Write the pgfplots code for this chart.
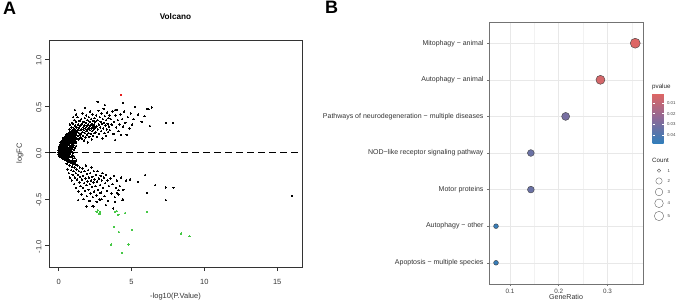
\documentclass[border=0pt]{standalone}
\usepackage{fontspec}
\setmainfont{Liberation Sans}
\usepackage{pgfplots}
\pgfplotsset{compat=1.18}
\definecolor{vgreen}{RGB}{70,200,70}
\definecolor{vred}{RGB}{230,30,30}
\begin{document}
\begin{tikzpicture}[x=1pt,y=1pt]
\useasboundingbox (0pt,0pt) rectangle (678pt,303pt);
\node[anchor=north west,inner sep=0,font=\bfseries\fontsize{18}{18}\selectfont] at (3pt,301pt) {A};
\node[anchor=north west,inner sep=0,font=\bfseries\fontsize{18}{18}\selectfont] at (325pt,302pt) {B};
% ---------------- Panel A: volcano ----------------
\begin{axis}[at={(49pt,36pt)}, anchor=south west, scale only axis, width=253pt, height=227pt,
  xmin=-0.66, xmax=16.7, ymin=-1.23, ymax=1.21,
  axis line style={black!80, line width=0.6pt},
  xtick={0,5,10,15}, xticklabels={0,5,10,15},
  ytick={-1,-0.5,0,0.5,1}, yticklabels={-1.0,-0.5,0.0,0.5,1.0},
  tick align=outside, tick pos=left, major tick length=4pt,
  tick style={black!80, line width=0.5pt},
  tick label style={font=\fontsize{7.5}{8}\selectfont, text=black!80},
  x tick label style={yshift=-5pt},
  y tick label style={rotate=90, anchor=south, xshift=-1pt},
  xlabel={-log10(P.Value)}, ylabel={logFC},
  xlabel style={at={(axis description cs:0.5,0)}, anchor=center, yshift=-30pt, font=\fontsize{7.5}{8}\selectfont, text=black!80},
  ylabel style={at={(axis description cs:0,0.5)}, anchor=center, yshift=29pt, font=\fontsize{7.5}{8}\selectfont, text=black!80},
  title={Volcano},
  title style={at={(axis description cs:0.5,1)}, anchor=center, yshift=17pt, font=\bfseries\fontsize{8.2}{9}\selectfont},
]
\addplot[only marks, mark=*, mark size=0.7pt, black, mark options={line width=0pt}] coordinates {
(0,-0.02)(0,0)(0,0.02)
(0.03,-0.03)(0.03,-0.01)(0.03,0.01)(0.03,0.03)(0.03,0.05)
(0.06,-0.03)(0.06,-0.01)(0.06,0.01)(0.06,0.03)(0.06,0.05)(0.06,0.07)
(0.1,-0.04)(0.1,-0.02)(0.1,0)(0.1,0.02)(0.1,0.04)(0.1,0.06)(0.1,0.08)
(0.14,-0.05)(0.14,-0.03)(0.14,-0.01)(0.14,0.01)(0.14,0.03)(0.14,0.05)(0.14,0.07)(0.14,0.09)(0.14,0.11)
(0.18,-0.05)(0.18,-0.03)(0.18,-0.01)(0.18,0.01)(0.18,0.03)(0.18,0.05)(0.18,0.07)(0.18,0.09)(0.18,0.11)
(0.22,-0.06)(0.22,-0.04)(0.22,-0.02)(0.22,0)(0.22,0.02)(0.22,0.04)(0.22,0.06)(0.22,0.08)(0.22,0.1)(0.22,0.12)
(0.26,-0.06)(0.26,-0.04)(0.26,-0.02)(0.26,0.01)(0.26,0.03)(0.26,0.05)(0.26,0.07)(0.26,0.09)(0.26,0.11)(0.26,0.13)
(0.3,-0.065)(0.3,-0.045)(0.3,-0.025)(0.3,-0.005)(0.3,0.015)(0.3,0.035)(0.3,0.055)(0.3,0.075)(0.3,0.095)(0.3,0.115)(0.3,0.135)(0.3,0.15)
(0.35,-0.07)(0.35,-0.05)(0.35,-0.03)(0.35,-0.01)(0.35,0.01)(0.35,0.03)(0.35,0.05)(0.35,0.07)(0.35,0.09)(0.35,0.11)(0.35,0.13)(0.35,0.155)
(0.4,-0.075)(0.4,-0.05)(0.4,-0.025)(0.4,0)(0.4,0.02)(0.4,0.04)(0.4,0.06)(0.4,0.08)(0.4,0.1)(0.4,0.12)(0.4,0.14)(0.4,0.165)
(0.45,-0.07)(0.45,-0.045)(0.45,-0.02)(0.45,0.005)(0.45,0.03)(0.45,0.05)(0.45,0.07)(0.45,0.09)(0.45,0.11)(0.45,0.13)(0.45,0.15)(0.45,0.175)
(0.5,-0.08)(0.5,-0.05)(0.5,-0.02)(0.5,0.01)(0.5,0.04)(0.5,0.065)(0.5,0.09)(0.5,0.115)(0.5,0.14)(0.5,0.165)(0.5,0.185)
(0.56,-0.085)(0.56,-0.055)(0.56,-0.025)(0.56,0.005)(0.56,0.035)(0.56,0.06)(0.56,0.085)(0.56,0.11)(0.56,0.135)(0.56,0.16)(0.56,0.19)
(0.62,-0.075)(0.62,-0.04)(0.62,-0.01)(0.62,0.02)(0.62,0.05)(0.62,0.08)(0.62,0.105)(0.62,0.13)(0.62,0.155)(0.62,0.18)(0.62,0.2)
(0.68,-0.09)(0.68,-0.055)(0.68,-0.02)(0.68,0.015)(0.68,0.05)(0.68,0.085)(0.68,0.115)(0.68,0.145)(0.68,0.17)(0.68,0.195)
(0.74,-0.08)(0.74,-0.04)(0.74,0)(0.74,0.04)(0.74,0.075)(0.74,0.11)(0.74,0.14)(0.74,0.165)(0.74,0.19)(0.74,0.215)
(0.8,-0.095)(0.8,-0.05)(0.8,-0.01)(0.8,0.03)(0.8,0.07)(0.8,0.1)(0.8,0.13)(0.8,0.16)(0.8,0.19)(0.8,0.22)
(0.86,-0.1)(0.86,-0.045)(0.86,0.02)(0.86,0.06)(0.86,0.1)(0.86,0.135)(0.86,0.165)(0.86,0.2)(0.86,0.23)
(0.92,-0.085)(0.92,-0.03)(0.92,0.04)(0.92,0.085)(0.92,0.12)(0.92,0.155)(0.92,0.185)(0.92,0.215)(0.92,0.24)
(0.98,-0.105)(0.98,-0.06)(0.98,0)(0.98,0.06)(0.98,0.105)(0.98,0.14)(0.98,0.17)(0.98,0.2)(0.98,0.245)
(1.05,-0.09)(1.05,-0.04)(1.05,0.03)(1.05,0.08)(1.05,0.12)(1.05,0.16)(1.05,0.19)(1.05,0.225)
(1.12,-0.11)(1.12,-0.06)(1.12,0.05)(1.12,0.1)(1.12,0.14)(1.12,0.18)(1.12,0.21)(1.12,0.25)
(1.2,-0.085)(1.2,0.07)(1.2,0.11)(1.2,0.15)(1.2,0.19)(1.2,0.23)
(0.82,0.21)(0.85,0.14)(0.88,0.27)(0.9,0.18)(0.92,0.11)(0.95,0.23)(0.97,0.31)(1.0,0.16)(1.02,0.2)(1.04,0.26)
(1.06,0.13)(1.08,0.35)(1.1,0.22)(1.12,0.17)(1.13,0.29)(1.15,0.24)(1.17,0.12)(1.19,0.2)(1.21,0.33)(1.23,0.27)
(1.25,0.15)(1.27,0.22)(1.29,0.38)(1.31,0.18)(1.33,0.25)(1.35,0.3)(1.37,0.14)(1.39,0.21)(1.41,0.27)(1.43,0.34)
(1.45,0.19)(1.47,0.24)(1.49,0.16)(1.12,0.457)(0.9,0.32)(1.0,0.38)(1.2,0.41)(0.75,0.25)(0.7,0.19)(0.78,0.3)
(1.51,0.29)(1.53,0.2)(1.55,0.36)(1.57,0.25)(1.59,0.15)(1.61,0.31)(1.63,0.22)(1.65,0.42)(1.67,0.18)(1.69,0.27)
(1.71,0.33)(1.73,0.24)(1.75,0.13)(1.77,0.29)(1.79,0.37)(1.81,0.21)(1.83,0.26)(1.85,0.16)(1.87,0.32)(1.89,0.4)
(1.91,0.23)(1.93,0.28)(1.95,0.19)(1.97,0.35)(1.99,0.25)(2.01,0.11)(2.03,0.3)(2.05,0.21)(2.07,0.38)(2.09,0.27)
(2.11,0.17)(2.13,0.33)(2.15,0.24)(2.17,0.44)(2.19,0.29)(2.21,0.2)(2.23,0.36)(2.25,0.26)(2.27,0.14)(2.29,0.31)
(2.31,0.23)(2.33,0.41)(2.35,0.28)(2.37,0.18)(2.39,0.34)(2.41,0.25)(2.43,0.3)(2.45,0.21)(2.47,0.37)(2.49,0.27)
(2.52,0.33)(2.55,0.22)(2.58,0.4)(2.61,0.28)(2.64,0.17)(2.67,0.35)(2.7,0.25)(2.73,0.45)(2.76,0.3)(2.79,0.2)
(2.82,0.38)(2.85,0.27)(2.88,0.33)(2.91,0.23)(2.94,0.42)(2.97,0.31)(3.0,0.15)(3.03,0.36)(3.06,0.26)(3.09,0.47)
(3.12,0.32)(3.15,0.21)(3.18,0.39)(3.21,0.29)(3.24,0.18)(3.27,0.35)(3.3,0.25)(3.33,0.43)(3.36,0.31)(3.39,0.22)
(3.42,0.37)(3.45,0.28)(3.48,0.4)
(3.52,0.24)(3.58,0.36)(3.64,0.3)(3.7,0.44)(3.76,0.2)(3.82,0.33)(3.87,0.134)(3.9,0.4)(3.95,0.27)(4.0,0.46)
(4.06,0.35)(4.12,0.23)(4.18,0.3)(4.24,0.41)(4.3,0.19)(4.36,0.36)(4.42,0.28)(4.5,0.44)(4.58,0.32)(4.67,0.19)
(4.75,0.38)(4.85,0.26)(4.95,0.42)(5.05,0.3)(5.15,0.36)
(5.24,0.49)(5.7,0.33)(6.09,0.47)(6.27,0.285)(6.39,0.486)(7.35,0.32)(7.83,0.32)(5.45,0.41)(5.9,0.39)
(1.81,0.48)(2.68,0.546)(3.18,0.51)(3.87,0.457)(4.4,0.535)(6.16,0.468)
(0.55,-0.12)(0.6,-0.18)(0.65,-0.1)(0.7,-0.22)(0.74,-0.14)(0.78,-0.27)(0.82,-0.11)(0.86,-0.19)(0.9,-0.3)(0.93,-0.15)
(0.96,-0.24)(1.0,-0.12)(1.03,-0.2)(1.06,-0.34)(1.09,-0.16)(1.12,-0.27)(1.15,-0.13)(1.18,-0.22)(1.21,-0.38)(1.24,-0.18)
(1.27,-0.29)(1.3,-0.14)(1.33,-0.24)(1.36,-0.42)(1.39,-0.2)(1.42,-0.32)(1.45,-0.16)(1.48,-0.26)
(1.51,-0.36)(1.54,-0.21)(1.57,-0.45)(1.6,-0.29)(1.63,-0.17)(1.66,-0.38)(1.69,-0.25)(1.72,-0.5)(1.75,-0.33)(1.78,-0.2)
(1.81,-0.41)(1.84,-0.28)(1.87,-0.14)(1.9,-0.35)(1.93,-0.47)(1.96,-0.23)(1.99,-0.31)(2.02,-0.19)(2.05,-0.4)(2.08,-0.27)
(2.11,-0.52)(2.14,-0.34)(2.17,-0.22)(2.2,-0.44)(2.23,-0.3)(2.26,-0.16)(2.29,-0.37)(2.32,-0.26)(2.35,-0.48)(2.38,-0.32)
(2.41,-0.2)(2.44,-0.42)(2.47,-0.29)
(2.52,-0.36)(2.56,-0.24)(2.6,-0.46)(2.64,-0.31)(2.68,-0.2)(2.72,-0.4)(2.76,-0.28)(2.8,-0.5)(2.84,-0.35)(2.88,-0.25)
(2.92,-0.43)(2.96,-0.3)(3.0,-0.22)(3.05,-0.38)(3.1,-0.27)(3.15,-0.47)(3.2,-0.33)(3.25,-0.24)(3.3,-0.41)(3.35,-0.3)
(3.4,-0.52)(3.45,-0.36)
(3.55,-0.28)(3.62,-0.44)(3.7,-0.34)(3.78,-0.25)(3.85,-0.48)(3.92,-0.38)(4.0,-0.3)(4.1,-0.45)(4.2,-0.36)(4.3,-0.27)
(4.45,-0.4)(4.63,-0.3)(4.9,-0.288)(5.43,-0.314)(5.93,-0.242)(6.05,-0.432)(6.62,-0.35)(7.35,-0.375)(7.88,-0.378)(7.35,-0.51)
(16.0,-0.464)(4.37,-0.51)(3.87,-0.53)(3.99,-0.432)(4.12,-0.403)(3.25,-0.565)(2.84,-0.51)(2.33,-0.575)(1.92,-0.58)(1.35,-0.51)
(2.84,-0.432)(3.75,-0.6)(2.61,-0.53)(2.95,-0.5)(2.38,-0.58)(4.4,-0.5)
};
\addplot[only marks, mark=*, mark size=0.7pt, vgreen, mark options={line width=0pt}] coordinates {
(2.61,-0.636)(2.84,-0.636)(2.8,-0.66)(2.7,-0.62)(4.0,-0.63)(4.1,-0.67)(4.56,-0.65)(3.87,-0.636)(6.05,-0.636)
(3.82,-0.8)(4.14,-0.855)(5.03,-0.83)(3.6,-0.99)(4.79,-0.99)(4.34,-1.077)(8.4,-0.87)(8.98,-0.9)
};
\addplot[only marks, mark=*, mark size=0.7pt, vred, mark options={line width=0pt}] coordinates {(4.3,0.62)};
\addplot[black, line width=1.8pt, dash pattern=on 7pt off 4pt] coordinates {(-0.66,0) (16.7,0)};
\end{axis}
% ---------------- Panel B: dot plot ----------------
\begin{axis}[at={(489pt,19pt)}, anchor=south west, scale only axis, width=154pt, height=262pt,
  xmin=0.057, xmax=0.373, ymin=0.42, ymax=7.58,
  xtick={0.1,0.2,0.3}, xticklabels={0.1,0.2,0.3}, minor xtick={0.15,0.25,0.35},
  ytick={1,2,3,4,5,6,7},
  yticklabels={Apoptosis − multiple species, Autophagy − other, Motor proteins, NOD−like receptor signaling pathway, Pathways of neurodegeneration − multiple diseases, Autophagy − animal, Mitophagy − animal},
  grid=both, major grid style={black!9, line width=0.5pt}, minor grid style={black!5, line width=0.3pt},
  axis line style={black!55, line width=0.6pt},
  tick align=outside, tick pos=left, major tick length=2pt, minor tick length=0pt,
  tick style={black!55, line width=0.5pt},
  tick label style={font=\fontsize{6.3}{7}\selectfont, text=black!75},
  y tick label style={font=\fontsize{7}{8}\selectfont, text=black!80},
  xlabel={GeneRatio},
  xlabel style={at={(axis description cs:0.5,0)}, anchor=center, yshift=-13pt, font=\fontsize{7.1}{8}\selectfont, text=black!80},
  colormap={pv}{rgb255(0)=(224,102,99); rgb255(1)=(142,106,152); rgb255(2)=(50,126,186)},
  point meta min=0.0007, point meta max=0.0475,
  colorbar,
  colorbar style={at={(parent axis.north east)}, anchor=north west, xshift=1pt, yshift=-71pt,
    scale only axis, width=11pt, height=50pt, y dir=reverse, scaled y ticks=false,
    ytick={0.01,0.02,0.03,0.04}, yticklabels={0.01,0.02,0.03,0.04},
    yticklabel style={font=\fontsize{4.3}{5}\selectfont, text=black!75},
    ytick style={white, line width=0.4pt}, major tick length=2pt, tick align=inside,
    axis line style={draw=none}, yticklabel pos=right, xtick=\empty, grid=none},
  every axis plot/.append style={scatter, only marks, mark=*, point meta=explicit,
    scatter/use mapped color={draw=black!75, fill=mapped color}, mark options={line width=0.4pt}},
]
\addplot[mark size=5.0pt] coordinates {(0.3571,7) [0.0015]};
\addplot[mark size=4.5pt] coordinates {(0.2857,6) [0.0040]};
\addplot[mark size=4.0pt] coordinates {(0.2143,5) [0.0300]};
\addplot[mark size=3.4pt] coordinates {(0.1429,4) [0.0330] (0.1429,3) [0.0330]};
\addplot[mark size=2.4pt] coordinates {(0.0714,2) [0.0460] (0.0714,1) [0.0460]};
\end{axis}
% ---------------- Legends ----------------
\node[anchor=west, inner sep=0, font=\fontsize{6.2}{7}\selectfont, text=black!85] at (652pt,216pt) {pvalue};
\begin{axis}[at={(640pt,78pt)}, anchor=south west, scale only axis, width=38pt, height=75pt,
  xmin=640, xmax=678, ymin=150, ymax=225, y dir=reverse, hide axis, clip=false]
\addplot[only marks, mark=o, mark size=1.7pt, black!60, mark options={line width=0.4pt}] coordinates {(659,170.7)};
\addplot[only marks, mark=o, mark size=3.2pt, black!60, mark options={line width=0.4pt}] coordinates {(659,181)};
\addplot[only marks, mark=o, mark size=3.8pt, black!60, mark options={line width=0.4pt}] coordinates {(659,192)};
\addplot[only marks, mark=o, mark size=4.3pt, black!60, mark options={line width=0.4pt}] coordinates {(659,203.3)};
\addplot[only marks, mark=o, mark size=4.7pt, black!60, mark options={line width=0.4pt}] coordinates {(659,216)};
\node[anchor=west, inner sep=0, font=\fontsize{6.2}{7}\selectfont, text=black!85] at (axis cs:652,160) {Count};
\node[anchor=west, inner sep=0, font=\fontsize{4.3}{5}\selectfont, text=black!75] at (axis cs:667.5,170.7) {1};
\node[anchor=west, inner sep=0, font=\fontsize{4.3}{5}\selectfont, text=black!75] at (axis cs:667.5,181) {2};
\node[anchor=west, inner sep=0, font=\fontsize{4.3}{5}\selectfont, text=black!75] at (axis cs:667.5,192) {3};
\node[anchor=west, inner sep=0, font=\fontsize{4.3}{5}\selectfont, text=black!75] at (axis cs:667.5,203.3) {4};
\node[anchor=west, inner sep=0, font=\fontsize{4.3}{5}\selectfont, text=black!75] at (axis cs:667.5,216) {5};
\end{axis}
\end{tikzpicture}
\end{document}
